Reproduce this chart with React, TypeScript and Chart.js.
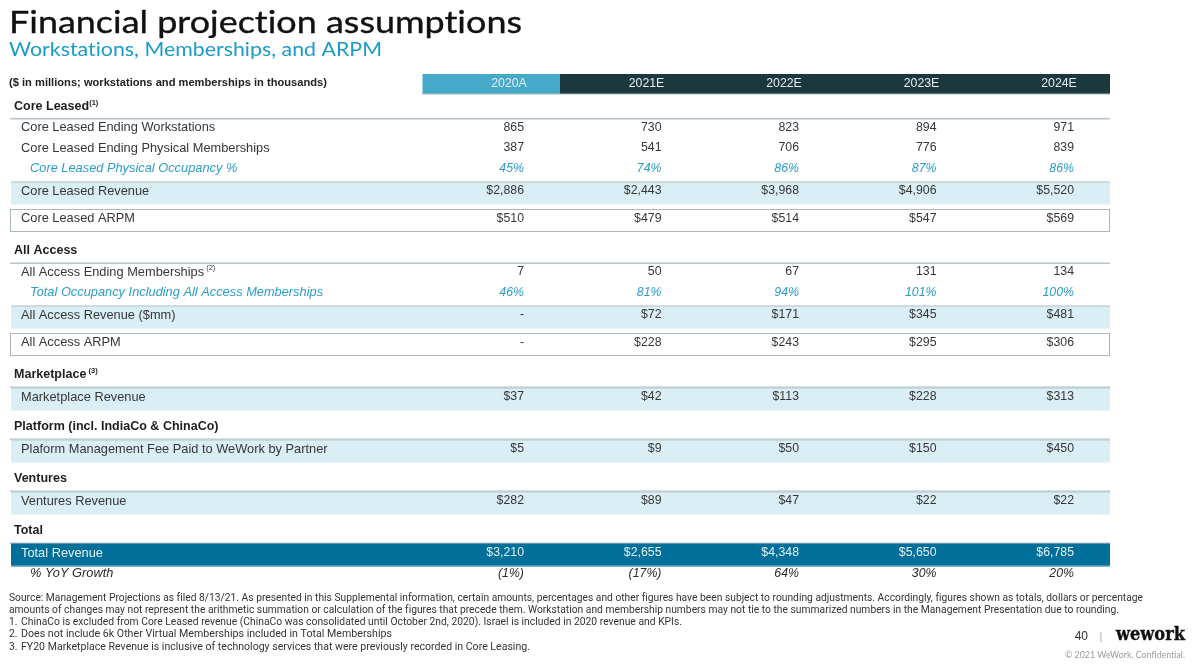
import React, { useEffect, useRef } from "react";
import { Chart, registerables } from "chart.js";

Chart.register(...registerables);

// ---------- DATA ----------
const YEARS = ["2020A", "2021E", "2022E", "2023E", "2024E"];
const CORE_WORKSTATIONS = [865, 730, 823, 894, 971];
const CORE_MEMBERSHIPS = [387, 541, 706, 776, 839];
const CORE_OCCUPANCY = [45, 74, 86, 87, 86];
const CORE_REVENUE = [2886, 2443, 3968, 4906, 5520];
const CORE_ARPM = [510, 479, 514, 547, 569];
const AA_MEMBERSHIPS = [7, 50, 67, 131, 134];
const TOTAL_OCCUPANCY = [46, 81, 94, 101, 100];
const AA_REVENUE = [null, 72, 171, 345, 481];
const AA_ARPM = [null, 228, 243, 295, 306];
const MARKETPLACE_REVENUE = [37, 42, 113, 228, 313];
const PLATFORM_FEE = [5, 9, 50, 150, 450];
const VENTURES_REVENUE = [282, 89, 47, 22, 22];
const TOTAL_REVENUE = [3210, 2655, 4348, 5650, 6785];
const YOY_GROWTH = [-1, -17, 64, 30, 20];

const TITLE = "Financial projection assumptions";
const SUBTITLE = "Workstations, Memberships, and ARPM";
const UNIT_NOTE = "($ in millions; workstations and memberships in thousands)";
const SOURCE_LINES = [
  "Source: Management Projections as filed 8/13/21. As presented in this Supplemental information, certain amounts, percentages and other figures have been subject to rounding adjustments. Accordingly, figures shown as totals, dollars or percentage",
  "amounts of changes may not represent the arithmetic summation or calculation of the figures that precede them. Workstation and membership numbers may not tie to the summarized numbers in the Management Presentation due to rounding.",
];
const FOOTNOTES = [
  "ChinaCo is excluded from Core Leased revenue (ChinaCo was consolidated until October 2nd, 2020). Israel is included in 2020 revenue and KPIs.",
  "Does not include 6k Other Virtual Memberships included in Total Memberships",
  "FY20 Marketplace Revenue is inclusive of technology services that were previously recorded in Core Leasing.",
];
const PAGE_NUMBER = "40";
const BRAND = "wework";
const COPYRIGHT = "\u00A9 2021 WeWork. Confidential.";

// ---------- TABLE STRUCTURE ----------
type Row = {
  kind: string;
  label?: string;
  sup?: string;
  values?: (number | null)[];
  fmt?: string;
};

const ROWS: Row[] = [
  { kind: "header" },
  { kind: "section", label: "Core Leased", sup: "(1)" },
  { kind: "row", label: "Core Leased Ending Workstations", values: CORE_WORKSTATIONS, fmt: "num" },
  { kind: "row", label: "Core Leased Ending Physical Memberships", values: CORE_MEMBERSHIPS, fmt: "num" },
  { kind: "pct", label: "Core Leased Physical Occupancy %", values: CORE_OCCUPANCY, fmt: "pct" },
  { kind: "band", label: "Core Leased Revenue", values: CORE_REVENUE, fmt: "usd" },
  { kind: "box", label: "Core Leased ARPM", values: CORE_ARPM, fmt: "usd" },
  { kind: "section", label: "All Access" },
  { kind: "row", label: "All Access Ending Memberships", sup: " (2)", values: AA_MEMBERSHIPS, fmt: "num" },
  { kind: "pct", label: "Total Occupancy Including All Access Memberships", values: TOTAL_OCCUPANCY, fmt: "pct" },
  { kind: "band", label: "All Access Revenue ($mm)", values: AA_REVENUE, fmt: "usd" },
  { kind: "box", label: "All Access ARPM", values: AA_ARPM, fmt: "usd" },
  { kind: "section", label: "Marketplace", sup: " (3)" },
  { kind: "band", label: "Marketplace Revenue", values: MARKETPLACE_REVENUE, fmt: "usd" },
  { kind: "section", label: "Platform (incl. IndiaCo & ChinaCo)" },
  { kind: "band", label: "Plaform Management Fee Paid to WeWork by Partner", values: PLATFORM_FEE, fmt: "usd" },
  { kind: "section", label: "Ventures" },
  { kind: "band", label: "Ventures Revenue", values: VENTURES_REVENUE, fmt: "usd" },
  { kind: "section", label: "Total" },
  { kind: "total", label: "Total Revenue", values: TOTAL_REVENUE, fmt: "usd" },
  { kind: "yoy", label: "% YoY Growth", values: YOY_GROWTH, fmt: "growth" },
];

// ---------- LAYOUT / STYLE ----------
const KIND_HEIGHT: Record<string, number> = {
  header: 21, section: 24, row: 20.5, pct: 20.5, band: 23, box: 23, total: 23, yoy: 20.5,
};
const KIND_TEXT_OFFSET: Record<string, number> = {
  header: 10, section: 11.5, row: 8.5, pct: 8.5, band: 9.5, box: 9.5, total: 9.5, yoy: 7,
};
function gapBefore(prev: string, kind: string) {
  if (kind === "section") return prev === "box" ? 7.5 : prev === "band" ? 5 : 0;
  if (kind === "band" || kind === "total") return prev === "row" || prev === "pct" ? 1 : 0;
  if (kind === "box") return 4.5;
  return 0;
}
const LAYOUT = (() => {
  let y = 0;
  let prev = "";
  return ROWS.map((r) => {
    y += gapBefore(prev, r.kind);
    const top = y;
    y += KIND_HEIGHT[r.kind];
    prev = r.kind;
    return { row: r, top, bottom: y, text: top + KIND_TEXT_OFFSET[r.kind] };
  });
})();
const TABLE_HEIGHT = LAYOUT[LAYOUT.length - 1].bottom;

const CANVAS_W = 1200;
const CANVAS_H = 666;
const TABLE_TOP = 74;
const TABLE_LEFT = 10;
const TABLE_RIGHT = 1110;
// x axis in column units: column i value anchor at i, label column occupies the left part
const X_MIN = -3.738;
const X_MAX = 4.262;
const HEADER_CELL_LEFT = -0.738;
const HEADER_CELL_RIGHT = 0.262;
const HEADER_TEXT_SHIFT = -0.109;

const BODY_FONT = '"Liberation Sans", Arial, sans-serif';
const LABEL_SIZE = "12.8px ";
const VALUE_SIZE = "12.3px ";
const C_TEXT = "#363636";
const C_CYAN = "#2a9dc9";
const C_BAND = "#daeef5";
const C_LINE = "#b6c3ca";
const C_TOTAL = "#00709a";
const C_HEAD_A = "#45a9c9";
const C_HEAD_E = "#1b393d";

function fmtValue(v: number | null, fmt?: string) {
  if (v === null || v === undefined) return "-";
  if (fmt === "usd") return "$" + v.toLocaleString("en-US");
  if (fmt === "pct") return v + "%";
  if (fmt === "growth") return v < 0 ? "(" + -v + "%)" : v + "%";
  return v.toLocaleString("en-US");
}

function drawText(
  ctx: CanvasRenderingContext2D,
  s: string,
  x: number,
  y: number,
  font: string,
  color: string,
  align: CanvasTextAlign = "left",
  width?: number,
  baseline: CanvasTextBaseline = "middle",
  thicken = 0
) {
  ctx.save();
  ctx.font = font;
  (ctx as any).letterSpacing = "0.01px";
  ctx.fillStyle = color;
  ctx.strokeStyle = color;
  ctx.lineWidth = thicken;
  ctx.lineJoin = "round";
  ctx.textAlign = align;
  ctx.textBaseline = baseline;
  const nat = ctx.measureText(s).width;
  if (width) {
    ctx.translate(x, y);
    ctx.scale(width / nat, 1);
    ctx.fillText(s, 0, 0);
    if (thicken) ctx.strokeText(s, 0, 0);
  } else {
    ctx.fillText(s, x, y);
    if (thicken) ctx.strokeText(s, x, y);
  }
  ctx.restore();
  return width || nat;
}

const tablePlugin = {
  id: "financialTable",
  afterDraw(chart: any) {
    const ctx: CanvasRenderingContext2D = chart.ctx;
    const xs = chart.scales.x;
    const ys = chart.scales.y;
    const px = (v: number) => xs.getPixelForValue(v);
    const py = (v: number) => ys.getPixelForValue(v);
    const L = px(X_MIN);
    const R = px(X_MAX);

    // Titles
    drawText(ctx, TITLE, 9, 33, '400 31px Lato, "Open Sans", sans-serif', "#111", "left", 513, "alphabetic", 0.35);
    drawText(ctx, SUBTITLE, 9, 56, '400 19.5px Lato, "Open Sans", sans-serif', "#1b9cc8", "left", 373, "alphabetic", 0);
    drawText(ctx, UNIT_NOTE, 9, 83.5, "bold 10.5px " + BODY_FONT, "#222", "left", 318);

    LAYOUT.forEach(({ row, top, bottom, text }) => {
      const yT = py(top);
      const yB = py(bottom);
      const yc = py(text);
      const k = row.kind;

      if (k === "header") {
        YEARS.forEach((yr, i) => {
          const x0 = px(i + HEADER_CELL_LEFT);
          const x1 = px(i + HEADER_CELL_RIGHT);
          ctx.fillStyle = i === 0 ? C_HEAD_A : C_HEAD_E;
          ctx.fillRect(x0, yT, x1 - x0 + (i < YEARS.length - 1 ? 0.5 : 0), yB - yT - 1);
          drawText(ctx, yr, px(i + HEADER_TEXT_SHIFT), yc, "12.3px " + BODY_FONT, "#e9eff2", "center");
        });
        ctx.fillStyle = "#aab7be";
        ctx.fillRect(px(HEADER_CELL_LEFT), yB - 1.5, px(YEARS.length - 1 + HEADER_CELL_RIGHT) - px(HEADER_CELL_LEFT), 1);
        return;
      }

      if (k === "section") {
        const w = drawText(ctx, row.label || "", 14, yc, "bold 12.5px " + BODY_FONT, "#1e1e1e");
        if (row.sup) drawText(ctx, row.sup, 14 + w, yc - 4, "bold 7.5px " + BODY_FONT, "#1e1e1e");
        ctx.fillStyle = C_LINE;
        ctx.fillRect(L, yB - 1, R - L, 1.5);
        return;
      }

      let labelX = 21;
      let labelFont = LABEL_SIZE + BODY_FONT;
      let labelColor = C_TEXT;
      let valFont = VALUE_SIZE + BODY_FONT;
      let valColor = C_TEXT;

      if (k === "band") {
        ctx.fillStyle = C_BAND;
        ctx.fillRect(L + 1, yT, R - L - 1, yB - yT);
        ctx.fillStyle = C_LINE;
        ctx.fillRect(L + 1, yT, R - L - 1, 1);
      } else if (k === "box") {
        ctx.strokeStyle = "#aab6bd";
        ctx.lineWidth = 1;
        ctx.strokeRect(L + 0.5, yT + 0.5, R - L - 1, yB - yT - 1);
      } else if (k === "total") {
        ctx.fillStyle = C_TOTAL;
        ctx.fillRect(L + 1, yT, R - L - 1, yB - yT);
        ctx.fillStyle = "#8fb4c4";
        ctx.fillRect(L + 1, yB - 1, R - L - 1, 1);
        labelColor = "#e6f0f4";
        valColor = "#e6f0f4";
      } else if (k === "pct") {
        labelX = 30;
        labelFont = "italic " + LABEL_SIZE + BODY_FONT;
        labelColor = C_CYAN;
        valFont = "italic " + VALUE_SIZE + BODY_FONT;
        valColor = C_CYAN;
      } else if (k === "yoy") {
        labelX = 30;
        labelFont = "italic " + LABEL_SIZE + BODY_FONT;
        labelColor = "#2a2a2a";
        valFont = "italic " + VALUE_SIZE + BODY_FONT;
        valColor = "#2a2a2a";
      }

      const w = drawText(ctx, row.label || "", labelX, yc, labelFont, labelColor);
      if (row.sup) drawText(ctx, row.sup, labelX + w, yc - 4, "7.5px " + BODY_FONT, labelColor);

      (row.values || []).forEach((v, i) => {
        const s = fmtValue(v, row.fmt);
        drawText(ctx, s, v === null ? px(i) - 2 : px(i), yc, valFont, valColor, v === null ? "center" : "right");
      });
    });

    // Footnotes
    const fnFont = '10.3px Roboto, "Liberation Sans", sans-serif';
    drawText(ctx, SOURCE_LINES[0], 9, 598.5, fnFont, "#333", "left", 1134);
    drawText(ctx, SOURCE_LINES[1], 9, 610.5, fnFont, "#333", "left", 1110);
    const fnWidths = [661, 371, 509];
    FOOTNOTES.forEach((f, i) => {
      const y = 622.5 + i * 12.3;
      drawText(ctx, i + 1 + ".", 9, y, fnFont, "#333");
      drawText(ctx, f, 21, y, fnFont, "#333", "left", fnWidths[i]);
    });

    // Page footer
    drawText(ctx, PAGE_NUMBER, 1088, 637, '12px "Liberation Sans", sans-serif', "#333", "right");
    drawText(ctx, "|", 1101, 637, '11px "Liberation Sans", sans-serif', "#aaa", "center");
    drawText(ctx, BRAND, 1116, 635, 'bold 19px "DejaVu Serif", "Liberation Serif", serif', "#111", "left", 69, "middle", 0.4);
    drawText(ctx, COPYRIGHT, 1185, 655, '9px Lato, "Liberation Sans", sans-serif', "#9a9a9a", "right", 120);
  },
};

export default function App() {
  const ref = useRef<HTMLCanvasElement>(null);
  useEffect(() => {
    if (!ref.current) return;
    const chart = new Chart(ref.current, {
      type: "scatter",
      data: { datasets: [{ data: [], pointRadius: 0 }] },
      options: {
        animation: false,
        responsive: false,
        maintainAspectRatio: false,
        events: [],
        layout: {
          padding: {
            left: TABLE_LEFT,
            right: CANVAS_W - TABLE_RIGHT,
            top: TABLE_TOP,
            bottom: CANVAS_H - TABLE_TOP - TABLE_HEIGHT,
          },
        },
        plugins: { legend: { display: false }, tooltip: { enabled: false }, title: { display: false } },
        scales: {
          x: { type: "linear", min: X_MIN, max: X_MAX, display: false },
          y: { type: "linear", min: 0, max: TABLE_HEIGHT, reverse: true, display: false },
        },
      },
      plugins: [tablePlugin],
    } as any);
    return () => chart.destroy();
  }, []);
  return (
    <div style={{ position: "fixed", left: 0, top: 0, width: CANVAS_W, height: CANVAS_H, background: "#fff" }}>
      <canvas ref={ref} width={CANVAS_W} height={CANVAS_H} style={{ display: "block" }} />
    </div>
  );
}
